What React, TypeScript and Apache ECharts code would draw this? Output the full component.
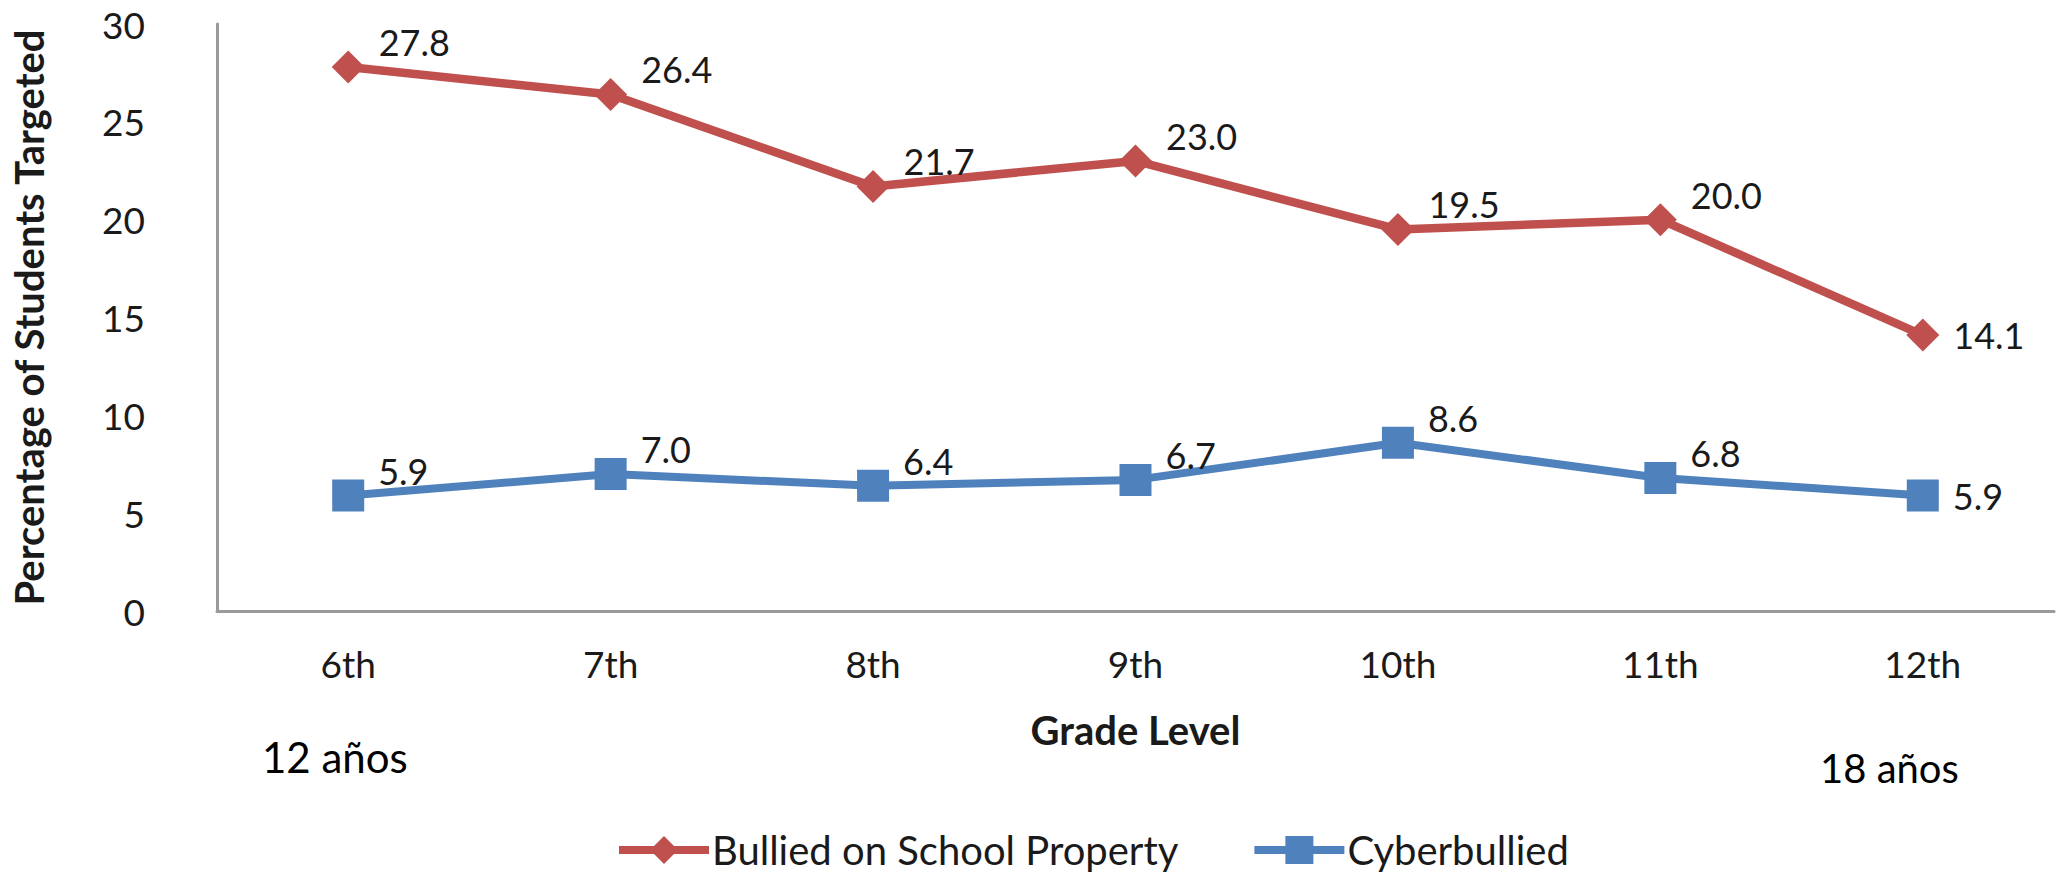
import React, { useEffect, useRef } from "react";
import * as echarts from "echarts";

const grades = ["6th", "7th", "8th", "9th", "10th", "11th", "12th"];
const bulliedOnSchoolProperty = [27.8, 26.4, 21.7, 23.0, 19.5, 20.0, 14.1];
const cyberbullied = [5.9, 7.0, 6.4, 6.7, 8.6, 6.8, 5.9];
const seriesNames = ["Bullied on School Property", "Cyberbullied"];
const yMin = 0;
const yMax = 30;
const yInterval = 5;
const yAxisTitle = "Percentage of Students Targeted";
const xAxisTitle = "Grade Level";
const ageNotes = ["12 años", "18 años"];

const FONT = "Lato, 'Open Sans', sans-serif";
const RED = "#C0504D";
const BLUE = "#4F81BD";

function buildData(values: number[]) {
  const last = values.length - 1;
  return values.map((v, i) =>
    i === last ? { value: v, label: { offset: [0, 0] } } : { value: v }
  );
}

export default function App() {
  const ref = useRef<HTMLDivElement>(null);
  useEffect(() => {
    if (!ref.current) return;
    const chart = echarts.init(ref.current, undefined, { renderer: "svg" });
    const labelCommon = {
      show: true,
      position: "right",
      distance: 14,
      offset: [0, -25],
      fontFamily: FONT,
      fontSize: 36,
      color: "#1a1a1a",
      formatter: (p: any) => Number(p.value).toFixed(1),
    };
    chart.setOption({
      animation: false,
      backgroundColor: "#ffffff",
      textStyle: { fontFamily: FONT },
      grid: { left: 217, right: 2, top: 24, bottom: 262, containLabel: false },
      legend: {
        data: seriesNames,
        left: 615,
        top: 830,
        padding: 0,
        itemWidth: 90,
        itemHeight: 35,
        itemGap: 72,
        lineStyle: { width: 8 },
        textStyle: { fontFamily: FONT, fontSize: 40, lineHeight: 40, color: "#1a1a1a", padding: [0, 0, 0, -2] },
      },
      xAxis: {
        type: "category",
        data: grades,
        boundaryGap: true,
        name: xAxisTitle,
        nameLocation: "middle",
        nameGap: 99,
        nameTextStyle: { fontFamily: FONT, fontSize: 40, fontWeight: "bold", color: "#1a1a1a", verticalAlign: "top" },
        axisLine: { show: true, lineStyle: { color: "#9a9a9a", width: 3 } },
        axisTick: { show: false },
        axisLabel: { fontFamily: FONT, fontSize: 37, color: "#1a1a1a", margin: 34 },
        splitLine: { show: false },
      },
      yAxis: {
        type: "value",
        min: yMin,
        max: yMax,
        interval: yInterval,
        name: yAxisTitle,
        nameLocation: "middle",
        nameGap: 168,
        nameTextStyle: { fontFamily: FONT, fontSize: 40, fontWeight: "bold", color: "#1a1a1a" },
        axisLine: { show: true, lineStyle: { color: "#9a9a9a", width: 3 } },
        axisTick: { show: false },
        axisLabel: { fontFamily: FONT, fontSize: 37, color: "#1a1a1a", margin: 72 },
        splitLine: { show: false },
      },
      series: [
        {
          name: seriesNames[0],
          type: "line",
          data: buildData(bulliedOnSchoolProperty),
          symbol: "diamond",
          symbolSize: 33,
          showAllSymbol: true,
          lineStyle: { color: RED, width: 8.5 },
          itemStyle: { color: RED },
          label: labelCommon,
        },
        {
          name: seriesNames[1],
          type: "line",
          data: buildData(cyberbullied),
          symbol: "rect",
          symbolSize: 32,
          showAllSymbol: true,
          lineStyle: { color: BLUE, width: 8 },
          itemStyle: { color: BLUE },
          label: labelCommon,
        },
      ],
      graphic: [
        {
          type: "text",
          x: 262,
          y: 757,
          style: { text: ageNotes[0], fontFamily: FONT, fontSize: 42, fill: "#000000", textAlign: "left", textVerticalAlign: "middle" },
        },
        {
          type: "text",
          x: 1820,
          y: 768,
          style: { text: ageNotes[1], fontFamily: FONT, fontSize: 40, fill: "#000000", textAlign: "left", textVerticalAlign: "middle" },
        },
      ],
    });
    return () => chart.dispose();
  }, []);
  return (
    <div
      ref={ref}
      style={{ position: "fixed", left: 0, top: 0, width: 2056, height: 873, background: "#fff" }}
    />
  );
}
